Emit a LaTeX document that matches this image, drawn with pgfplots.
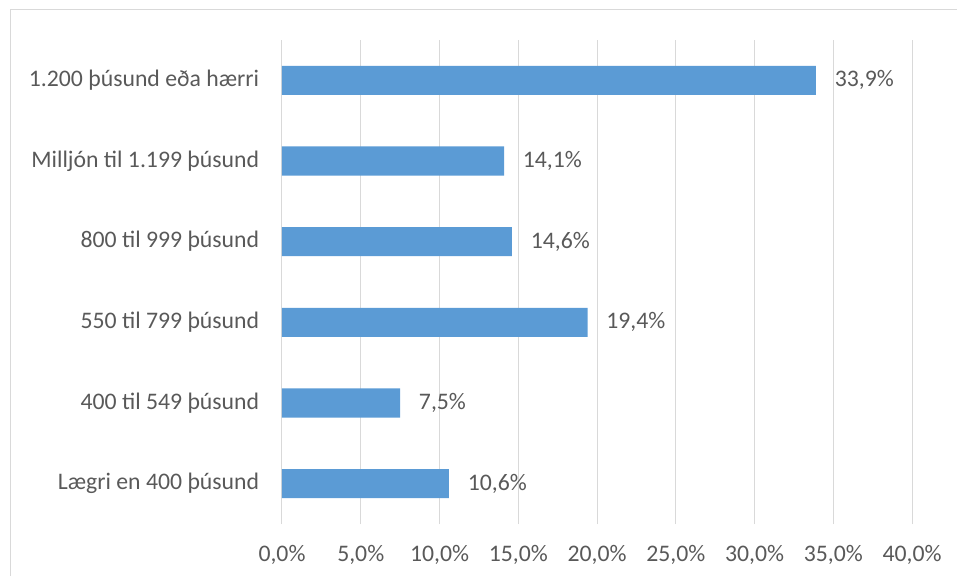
\documentclass[border=0pt]{standalone}
\usepackage{fontspec}
\setmainfont{Carlito}
\usepackage{pgfplots}
\pgfplotsset{compat=1.18}
\definecolor{barblue}{HTML}{5B9BD5}
\definecolor{gridgray}{HTML}{D9D9D9}
\definecolor{txt}{HTML}{595959}
\begin{document}
\fontsize{17.8}{21}\selectfont
\begin{tikzpicture}
\begin{axis}[
  at={(211.5pt,39pt)}, anchor=south west,
  scale only axis, width=472.5pt, height=363pt,
  xbar, bar width=0.36,
  xmin=0, xmax=40, ymin=-0.5, ymax=5.5,
  xtick={0,5,...,40},
  ytick={0,1,2,3,4,5},
  yticklabels={Lægri en 400 þúsund, 400 til 549 þúsund, 550 til 799 þúsund, 800 til 999 þúsund, Milljón til 1.199 þúsund, 1.200 þúsund eða hærri},
  xmajorgrids, grid style={gridgray, line width=0.75pt},
  axis line style={draw=none},
  major tick length=0pt,
  tick label style={text=txt, font=\fontsize{17.8}{21}\selectfont},
  xticklabel={\pgfmathprintnumber[fixed, fixed zerofill, precision=1, use comma, assume math mode=true]{\tick}\%},
  xticklabel style={yshift=-10pt},
  yticklabel style={xshift=-11pt},
  nodes near coords={\pgfmathprintnumber[fixed, fixed zerofill, precision=1, use comma, assume math mode=true]{\pgfplotspointmeta}\%},
  nodes near coords style={text=txt, font=\fontsize{17.8}{21}\selectfont, anchor=west, xshift=8pt},
  point meta=explicit,
  clip=false,
]
\addplot[fill=barblue, draw=none] coordinates {
  (10.6,0) [10.6]
  (7.5,1) [7.5]
  (19.4,2) [19.4]
  (14.6,3) [14.6]
  (14.1,4) [14.1]
  (33.9,5) [33.9]
};
\end{axis}
\draw[gridgray, line width=0.75pt] (7.5pt,0) -- (7.5pt,424.5pt) -- (717.75pt,424.5pt);
\pgfresetboundingbox
\path[use as bounding box] (0,0) rectangle (717.75pt,432pt);
\end{tikzpicture}
\end{document}
